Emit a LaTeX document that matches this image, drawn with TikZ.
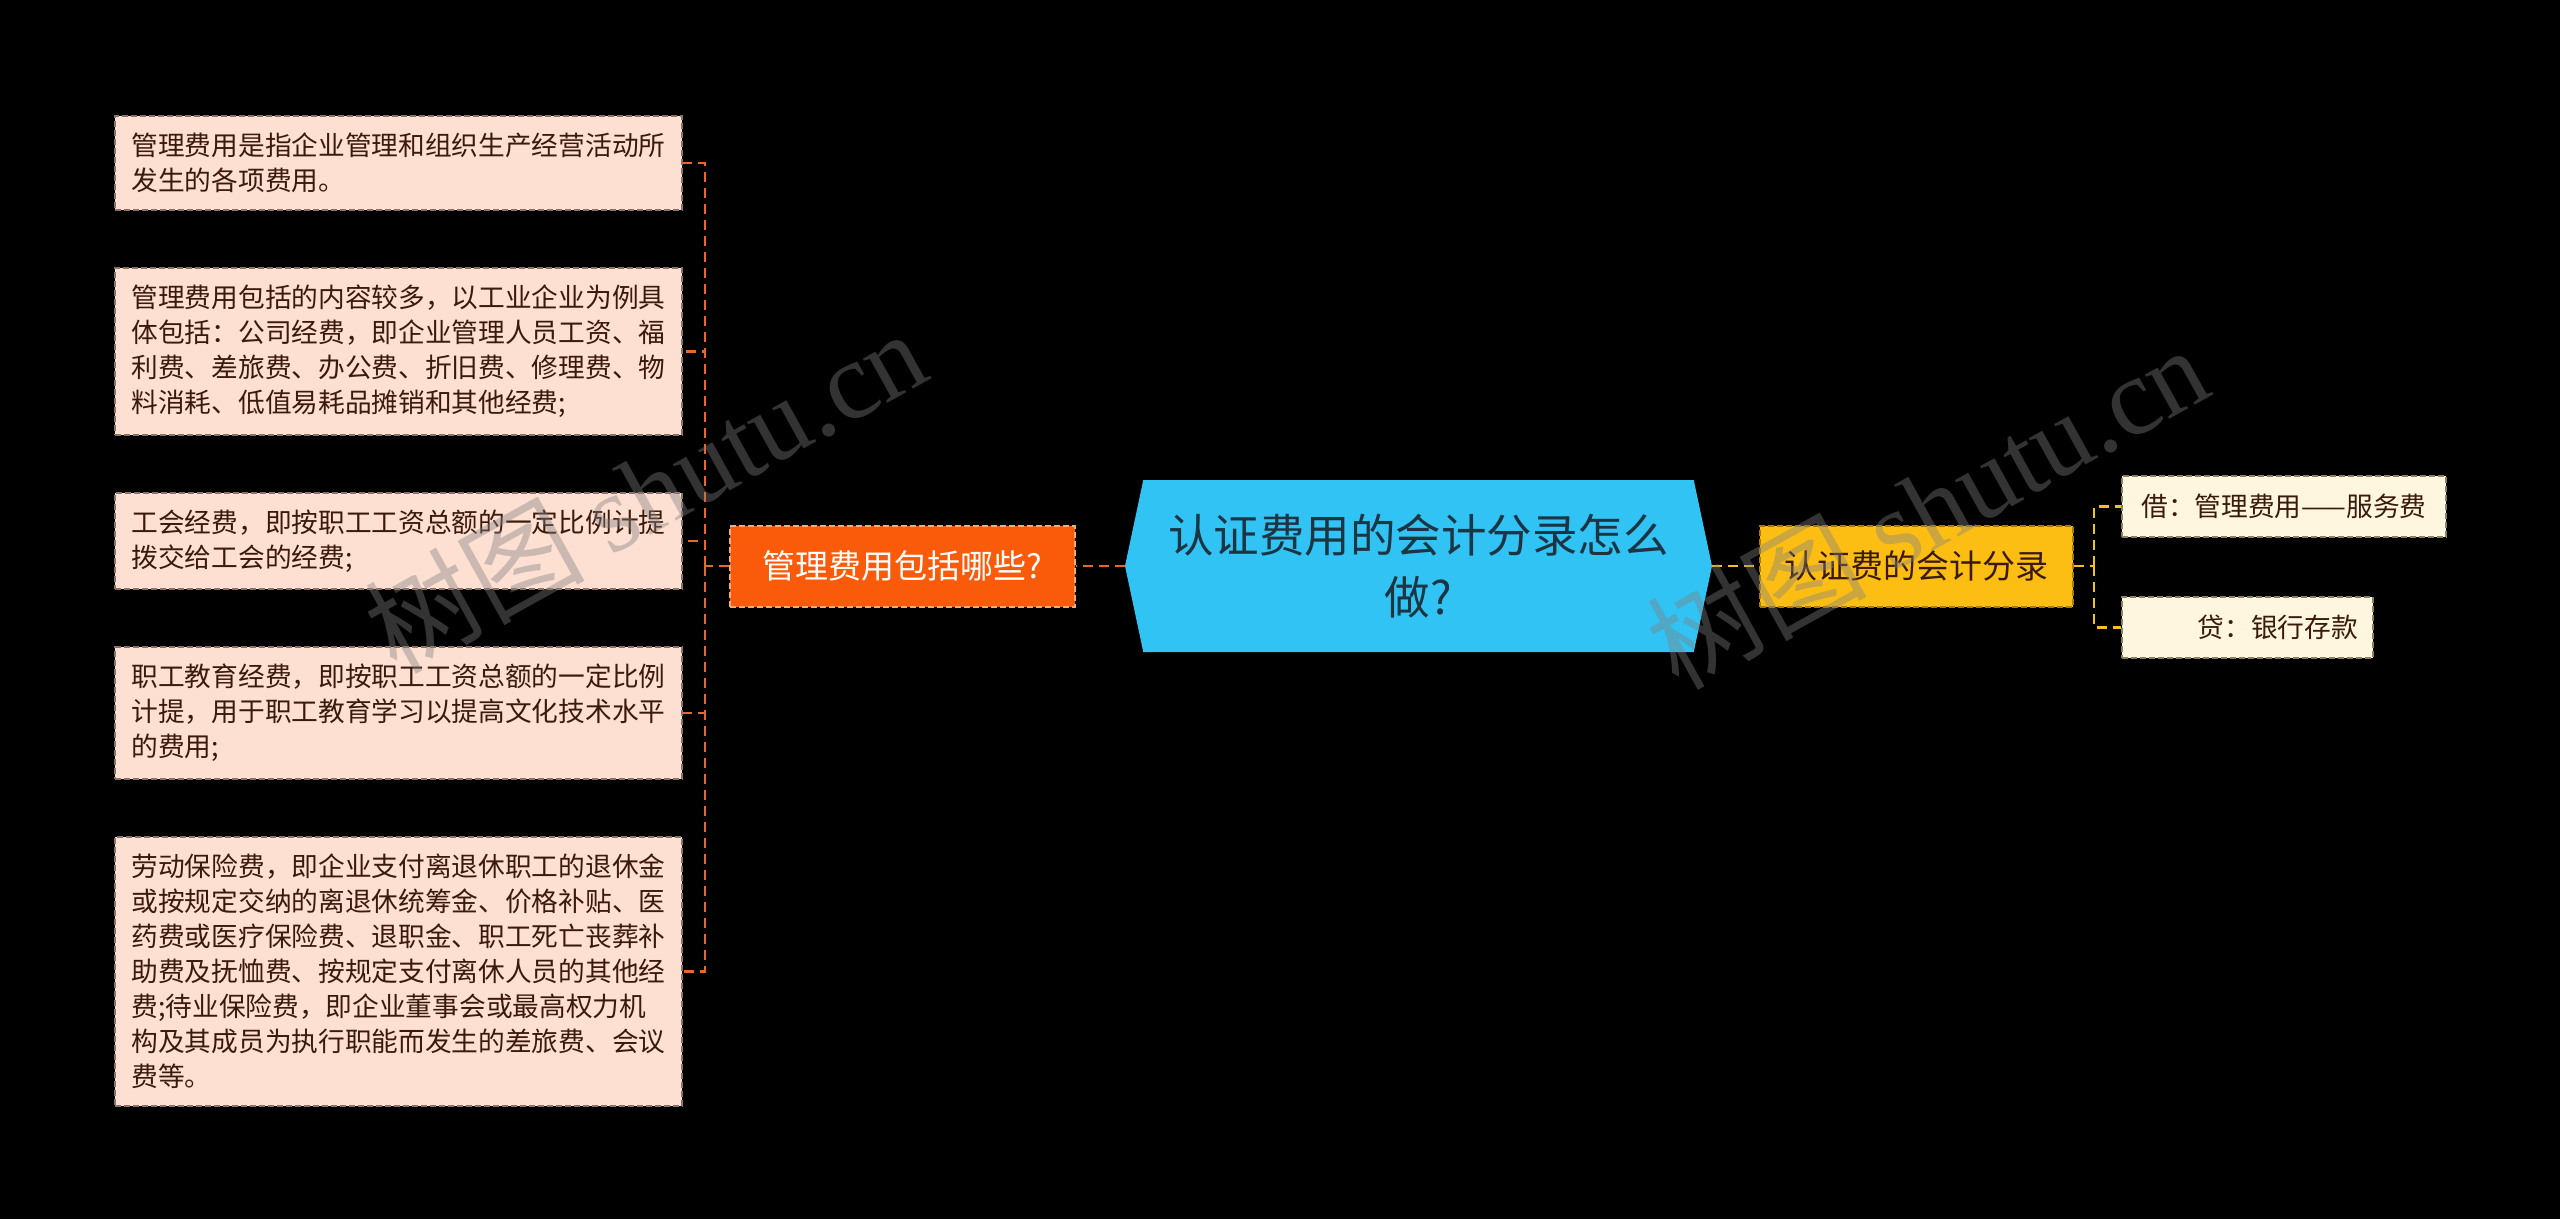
\documentclass[tikz,border=0pt]{standalone}
\usepackage{fontspec}
\setmainfont{Noto Sans CJK SC}
\newfontfamily\wmserif{Liberation Serif}
\usepackage{tikz}
\usetikzlibrary{positioning, shapes.symbols}

\definecolor{leaffill}{HTML}{FDE0D2}
\definecolor{leafline}{HTML}{8C7264}
\definecolor{leaftext}{HTML}{3A1A0C}
\definecolor{mgmtfill}{HTML}{FA5B0A}
\definecolor{mgmtline}{HTML}{FFA878}
\definecolor{rootfill}{HTML}{30C3F4}
\definecolor{roottext}{HTML}{1D3442}
\definecolor{acctfill}{HTML}{FDBE14}
\definecolor{acctline}{HTML}{A87C08}
\definecolor{creamfill}{HTML}{FEF6DE}
\definecolor{creamline}{HTML}{8C8060}
\definecolor{lline}{HTML}{E8672A}
\definecolor{rline}{HTML}{F3C21C}

\begin{document}
\begin{tikzpicture}[
        x=1pt, y=-1pt,
        % boxes on the left, the long notes
        leaf/.style={draw=leafline, line width=2pt, dash pattern=on 6pt off 3pt,
            fill=leaffill, text=leaftext, text width=534pt, align=left,
            inner xsep=16.5pt, inner ysep=17pt,
            font=\fontsize{26.7pt}{35pt}\selectfont},
        % the two boxes on the right
        rleaf/.style={draw=creamline, line width=2pt, dash pattern=on 6pt off 3pt,
            fill=creamfill, text=leaftext, minimum height=61pt, inner xsep=15pt,
            font=\fontsize{26.7pt}{35pt}\selectfont},
        branch/.style={line width=2pt, dash pattern=on 6pt off 3pt,
            minimum height=81pt, inner sep=0pt,
            font=\fontsize{33pt}{40pt}\selectfont},
        root/.style={signal, signal to=west and east, signal pointer angle=156,
            fill=rootfill, minimum width=587pt, minimum height=172pt, inner sep=0pt,
            align=center, text=roottext, font=\fontsize{45.5pt}{62pt}\selectfont},
        lconn/.style={draw=lline, line width=2.5pt, dash pattern=on 10pt off 6pt},
        rconn/.style={draw=rline, line width=2.5pt, dash pattern=on 10pt off 6pt},
        watermark/.style={text=gray, opacity=0.4, font=\fontsize{110pt}{120pt}\selectfont}
    ]
    \path[use as bounding box, fill=black] (0,0) rectangle (2560,1219);

    % centre and the two branches
    \node[root] (root) at (1418.5,566) {认证费用的会计分录怎么\\做?};
    \node[branch, draw=mgmtline, fill=mgmtfill, text=white, minimum width=345pt]
        (mgmt) at (902.5,566) {管理费用包括哪些?};
    \node[branch, draw=acctline, fill=acctfill, text=leaftext, minimum width=313pt]
        (acct) at (1916.5,566) {认证费的会计分录};

    % notes on the left, one under the other
    \node[leaf, anchor=north west] (cost1) at (114,115)
        {管理费用是指企业管理和组织生产经营活动所\\发生的各项费用。};
    \node[leaf, below=56pt of cost1] (cost2)
        {管理费用包括的内容较多，以工业企业为例具\\体包括：公司经费，即企业管理人员工资、福\\利费、差旅费、办公费、折旧费、修理费、物\\料消耗、低值易耗品摊销和其他经费;};
    \node[leaf, below=56pt of cost2] (cost3)
        {工会经费，即按职工工资总额的一定比例计提\\拨交给工会的经费;};
    \node[leaf, below=56pt of cost3] (cost4)
        {职工教育经费，即按职工工资总额的一定比例\\计提，用于职工教育学习以提高文化技术水平\\的费用;};
    \node[leaf, below=56pt of cost4] (cost5)
        {劳动保险费，即企业支付离退休职工的退休金\\或按规定交纳的离退休统筹金、价格补贴、医\\药费或医疗保险费、退职金、职工死亡丧葬补\\助费及抚恤费、按规定支付离休人员的其他经\\费;待业保险费，即企业董事会或最高权力机\\构及其成员为执行职能而发生的差旅费、会议\\费等。};

    % entries on the right
    \node[rleaf, minimum width=324pt, anchor=west] (debit) at (2121,506.5)
        {借：管理费用——服务费};
    \node[rleaf, minimum width=251pt, text width=221pt, align=right,
        below=58pt of debit.south west, anchor=north west] (credit)
        {贷：银行存款};

    % connectors
    \draw[lconn] (root.west) -- (mgmt.east);
    \draw[rconn] (root.east) -- (acct.west);
    \coordinate (lfork) at (705,566);
    \coordinate (rfork) at (2094,566);
    \draw[lconn] (mgmt.west) -- (lfork);
    \draw[lconn] (lfork) |- (cost1.east);
    \draw[lconn] (lfork) |- (cost2.east);
    \draw[lconn] (lfork) |- (cost3.east);
    \draw[lconn] (lfork) |- (cost4.east);
    \draw[lconn] (lfork) |- (cost5.east);
    \draw[rconn] (acct.east) -- (rfork);
    \draw[rconn] (rfork) |- (debit.west);
    \draw[rconn] (rfork) |- (credit.west);

    % watermarks over everything
    \node[watermark, rotate=29] (wm1) at (645,490) {树图 {\wmserif shutu.cn}};
    \node[watermark, rotate=29] (wm2) at (1927,506) {树图 {\wmserif shutu.cn}};
\end{tikzpicture}
\end{document}
